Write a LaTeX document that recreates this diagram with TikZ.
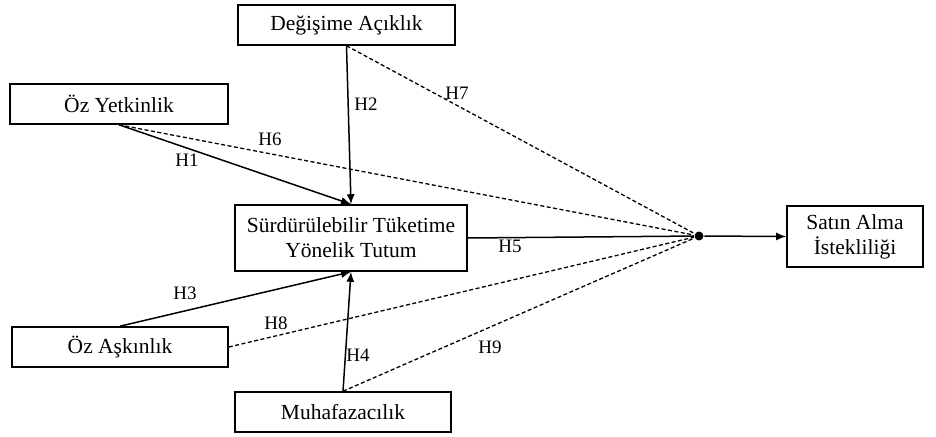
\documentclass[tikz,border=0pt]{standalone}
\usepackage{fontspec}
\setmainfont{Liberation Serif}
\usepackage{tikz}
\usetikzlibrary{positioning, arrows.meta}

\begin{document}
\begin{tikzpicture}[x=1pt, y=-1pt, >={Latex[length=10pt, width=8pt]}, line width=1.5pt,
	main node/.style={rectangle, draw, line width=1.6pt, fill=white, align=center, font=\fontsize{21.5}{25}\selectfont},
	hyp label/.style={font=\fontsize{19}{22}\selectfont, inner sep=0pt},
	hyp line/.style={dash pattern=on 4pt off 2.5pt, line width=1.3pt}]

	\useasboundingbox (0,0) rectangle (936,436);

	\node[main node, minimum width=217pt, minimum height=40pt] (deg) at (346.5,25) {De\u{g}i\c{s}ime A\c{c}\i kl\i k};
	\node[main node, minimum width=218pt, minimum height=40pt] (yet) at (119,104) {\"Oz Yetkinlik};
	\node[main node, minimum width=232pt, minimum height=66pt] (tut) at (351,238) {S\"urd\"ur\"ulebilir T\"uketime\\Y\"onelik Tutum};
	\node[main node, minimum width=216pt, minimum height=40pt] (ask) at (120,347) {\"Oz A\c{s}k\i nl\i k};
	\node[main node, minimum width=216pt, minimum height=40pt] (muh) at (343,412) {Muhafazac\i l\i k};
	\node[main node, minimum width=136pt, minimum height=61pt] (sat) at (855,236.5) {Sat\i n Alma\\\.Isteklili\u{g}i};
	\node[circle, fill, inner sep=0pt, minimum size=9pt] (mid) at (699,236) {};

	% draw paths into the attitude node
	\draw[->] (yet.south) -- (tut.north);
	\draw[->] (deg.south) -- (tut.north);
	\draw[->] (ask.north) -- (tut.south);
	\draw[->] (muh.north) -- (tut.south);

	% draw dashed paths into the junction
	\draw[hyp line] (yet.south) -- (mid);
	\draw[hyp line] (deg.south) -- (mid);
	\draw[hyp line] (ask.east) -- (mid);
	\draw[hyp line] (muh.north) -- (mid);

	% draw attitude to purchase intention
	\draw (tut.east) -- (mid);
	\draw[->] (mid) -- (sat.west);

	% hypothesis labels
	\node[hyp label] (h1) at (187,160) {H1};
	\node[hyp label] (h2) at (366,104) {H2};
	\node[hyp label] (h3) at (185,293) {H3};
	\node[hyp label] (h4) at (358,355) {H4};
	\node[hyp label] (h5) at (510,246) {H5};
	\node[hyp label] (h6) at (270,139) {H6};
	\node[hyp label] (h7) at (457,93) {H7};
	\node[hyp label] (h8) at (276,323) {H8};
	\node[hyp label] (h9) at (490,347) {H9};

\end{tikzpicture}
\end{document}
